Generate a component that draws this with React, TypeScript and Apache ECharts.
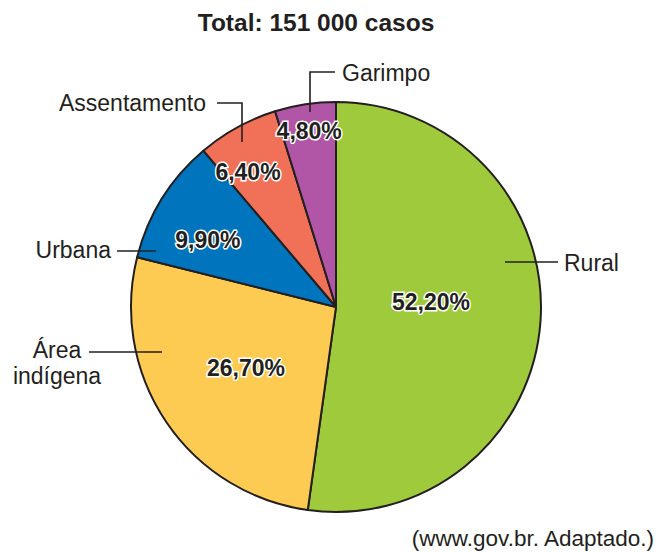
import React, { useEffect, useRef } from "react";
import * as echarts from "echarts";

const categories = ["Rural", "Área indígena", "Urbana", "Assentamento", "Garimpo"];
const values = [52.2, 26.7, 9.9, 6.4, 4.8];
const percentLabels = ["52,20%", "26,70%", "9,90%", "6,40%", "4,80%"];
const colors = ["#9ECA3C", "#FDCB52", "#0074BC", "#F07157", "#B156A6"];
// label placement: radius as fraction of pie radius, angular nudge in degrees
const labelRadiusFrac = [0.464, 0.53, 0.705, 0.786, 0.87];
const labelAngleNudge = [-7, 0, -4.3, -4.3, 0];
const title = "Total: 151 000 casos";
const source = "(www.gov.br. Adaptado.)";

const CX = 336;
const CY = 307;
const R = 205;
const FONT = "'Liberation Sans', Arial, Helvetica, sans-serif";
const INK = "#231F20";

function labelPos(i: number) {
  const total = values.reduce((a, b) => a + b, 0);
  let cum = 0;
  for (let k = 0; k < i; k++) cum += values[k];
  const mid = ((cum + values[i] / 2) / total) * 2 * Math.PI + (labelAngleNudge[i] * Math.PI) / 180;
  const r = R * labelRadiusFrac[i];
  return { x: CX + r * Math.sin(mid), y: CY - r * Math.cos(mid) };
}

export default function App() {
  const ref = useRef<HTMLDivElement>(null);
  useEffect(() => {
    document.body.style.margin = "0";
    const chart = echarts.init(ref.current!, null, { renderer: "svg" });
    const txt = (text: string, x: number, y: number, align: string, size = 23, weight = "normal") => ({
      type: "text",
      x,
      y,
      style: {
        text,
        fill: INK,
        font: `${weight} ${size}px ${FONT}`,
        align,
        verticalAlign: "middle",
      },
      z: 10,
    });
    const line = (points: number[][]) => ({
      type: "polyline",
      shape: { points },
      style: { stroke: INK, lineWidth: 1.6, fill: "none" },
      z: 10,
    });
    chart.setOption({
      animation: false,
      series: [
        {
          type: "pie",
          center: [CX, CY],
          radius: R,
          startAngle: 90,
          clockwise: true,
          silent: true,
          itemStyle: { borderColor: INK, borderWidth: 2 },
          label: {
            show: true,
            position: "inside",
            formatter: (p: any) => percentLabels[p.dataIndex],
            color: INK,
            fontFamily: FONT,
            fontWeight: "bold",
            fontSize: 23,
            textBorderColor: "#fff",
            textBorderWidth: 3,
          },
          labelLine: { show: false },
          labelLayout: (p: any) => {
            const pos = labelPos(p.dataIndex);
            return { x: pos.x, y: pos.y, align: "center", verticalAlign: "middle" };
          },
          data: categories.map((name, i) => ({
            name,
            value: values[i],
            itemStyle: { color: colors[i] },
          })),
        },
      ],
      graphic: [
        txt(title, 316, 22, "center", 24.5, "bold"),
        txt(source, 654, 538, "right", 22.5),
        txt("Rural", 564, 263, "left"),
        line([[505, 262], [558, 262]]),
        txt("Urbana", 111, 250, "right"),
        line([[117, 251], [156, 251]]),
        txt("Área", 57, 350, "center"),
        txt("indígena", 57, 376, "center"),
        line([[89, 352], [162, 352]]),
        txt("Assentamento", 206, 103, "right"),
        line([[217, 103], [242, 103], [242, 142]]),
        txt("Garimpo", 342, 73, "left"),
        line([[310, 112], [310, 72], [335, 72]]),
      ],
    });
    return () => chart.dispose();
  }, []);
  return <div ref={ref} style={{ width: 670, height: 552, position: "absolute", left: 0, top: 0, background: "#fff" }} />;
}
